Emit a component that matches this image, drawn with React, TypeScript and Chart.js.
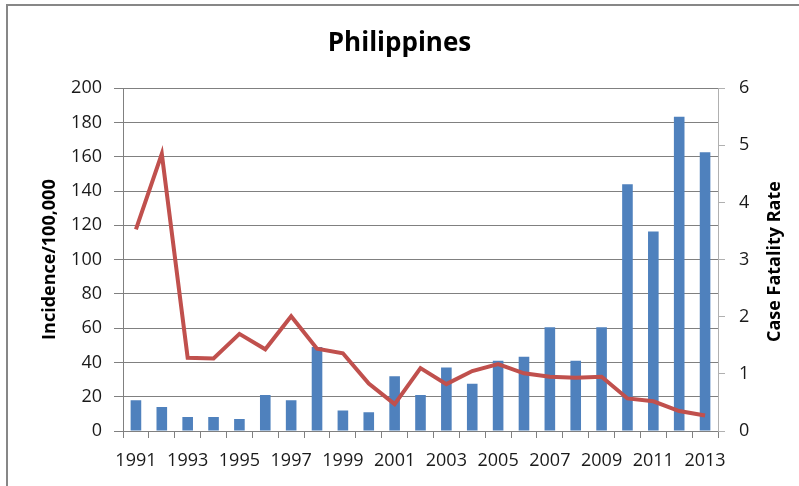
import React, { useEffect, useRef } from "react";
import { Chart, registerables } from "chart.js";

Chart.register(...registerables);

const years = [
  "1991", "1992", "1993", "1994", "1995", "1996", "1997", "1998", "1999", "2000",
  "2001", "2002", "2003", "2004", "2005", "2006", "2007", "2008", "2009", "2010",
  "2011", "2012", "2013",
];

const incidence = [
  18, 14, 8.2, 8.2, 7, 21, 18, 49, 12, 11,
  32, 21, 37, 27.6, 41, 43.3, 60.6, 41, 60.6, 144,
  116.4, 183.3, 162.7,
];

const caseFatalityRate = [
  3.53, 4.85, 1.28, 1.27, 1.7, 1.43, 2.01, 1.44, 1.36, 0.83,
  0.47, 1.1, 0.82, 1.05, 1.17, 1.01, 0.95, 0.93, 0.95, 0.57,
  0.52, 0.35, 0.27,
];

const chartTitle = "Philippines";
const leftAxisTitle = "Incidence/100,000";
const rightAxisTitle = "Case Fatality Rate";

const FONT = "'Open Sans', 'DejaVu Sans', sans-serif";
const GRID = "#808080";

const axisTitlesPlugin = {
  id: "axisTitles",
  afterDraw(chart: any) {
    const { ctx, chartArea } = chart;
    const cy = (chartArea.top + chartArea.bottom) / 2;
    ctx.save();
    ctx.fillStyle = "#000";
    ctx.font = `bold 18px ${FONT}`;
    ctx.textAlign = "center";
    ctx.textBaseline = "middle";
    ctx.translate(chartArea.left - 73, cy);
    ctx.rotate(-Math.PI / 2);
    ctx.fillText(leftAxisTitle, 0, 0);
    ctx.restore();

    ctx.save();
    ctx.fillStyle = "#000";
    ctx.font = `bold 18px ${FONT}`;
    ctx.textAlign = "center";
    ctx.textBaseline = "middle";
    ctx.translate(chartArea.right + 57, cy + 2);
    ctx.rotate(-Math.PI / 2);
    ctx.fillText(rightAxisTitle, 0, 0);
    ctx.restore();
  },
};

export default function App() {
  const ref = useRef<HTMLCanvasElement | null>(null);

  useEffect(() => {
    if (!ref.current) return;
    const chart = new Chart(ref.current, {
      type: "bar",
      data: {
        labels: years,
        datasets: [
          {
            type: "line",
            label: "Case Fatality Rate",
            data: caseFatalityRate,
            yAxisID: "y1",
            borderColor: "#C0504D",
            backgroundColor: "#C0504D",
            borderWidth: 4,
            pointRadius: 0,
            tension: 0,
            order: 0,
          } as any,
          {
            type: "bar",
            label: "Incidence/100,000",
            data: incidence,
            yAxisID: "y",
            backgroundColor: "#4F81BD",
            borderWidth: 0,
            barPercentage: 0.41,
            categoryPercentage: 1,
            order: 1,
          },
        ],
      },
      options: {
        responsive: false,
        animation: false,
        layout: { padding: { left: 0, right: 0, top: 0, bottom: 0 } },
        plugins: {
          legend: { display: false },
          tooltip: { enabled: false },
          title: {
            display: true,
            text: chartTitle,
            color: "#000",
            font: { family: FONT, size: 26, weight: "bold" },
            padding: { top: 28, bottom: 29 },
          },
        },
        scales: {
          x: {
            offset: true,
            grid: {
              offset: true,
              drawOnChartArea: false,
              drawTicks: true,
              tickLength: 7,
              color: GRID,
            },
            border: { color: GRID },
            ticks: {
              autoSkip: false,
              maxRotation: 0,
              minRotation: 0,
              padding: 12,
              color: "#1a1a1a",
              font: { family: FONT, size: 18 },
              callback: (_v: any, i: number) => (i % 2 === 0 ? years[i] : ""),
            },
            afterFit: (s: any) => {
              s.height = 55;
            },
          },
          y: {
            position: "left",
            min: 0,
            max: 200,
            grid: { color: GRID, tickLength: 9 },
            border: { color: GRID },
            ticks: {
              stepSize: 20,
              padding: 12,
              color: "#1a1a1a",
              font: { family: FONT, size: 18 },
            },
            afterFit: (s: any) => {
              s.width = 123;
            },
          },
          y1: {
            position: "right",
            min: 0,
            max: 6,
            grid: { drawOnChartArea: false, color: "#b0b0b0", tickLength: 7 },
            border: { color: "#b0b0b0" },
            ticks: {
              stepSize: 1,
              padding: 14,
              color: "#1a1a1a",
              font: { family: FONT, size: 18 },
            },
            afterFit: (s: any) => {
              s.width = 81;
            },
          },
        },
      },
      plugins: [axisTitlesPlugin],
    });
    return () => chart.destroy();
  }, []);

  return (
    <div style={{ position: "fixed", left: 0, top: 0, width: 799, height: 486, background: "#fff" }}>
      <canvas ref={ref} width={799} height={486} style={{ display: "block" }} />
      <div
        style={{
          position: "absolute",
          left: 6,
          top: 4,
          right: -10,
          bottom: -10,
          borderLeft: "2px solid #878787",
          borderTop: "2px solid #878787",
          pointerEvents: "none",
        }}
      />
    </div>
  );
}
